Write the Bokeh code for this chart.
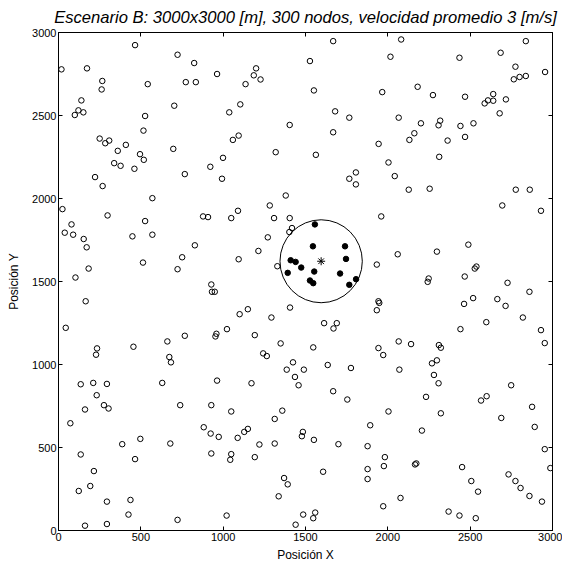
from bokeh.plotting import figure
from bokeh.models import LinearAxis, FixedTicker, CustomJSTickFormatter
from bokeh.embed import file_html
from bokeh.resources import INLINE

# --- data ---
open_x = [465,18,173,723,824,963,266,262,542,773,834,139,703,121,99,151,526,516,250,284,308,409,360,697,495,518,338,377,461,922,767,222,268,
          1668,1527,1200,1186,1227,1136,1551,1966,1104,1037,1680,1766,1404,1668,1094,1059,1944,999,1319,1563,993,1766,1806,1806,1380,
          2081,2838,2016,2435,2685,2775,2765,2800,2838,2955,2181,2274,2469,2588,2608,2640,2640,2717,2679,2066,2201,2318,2308,2441,2520,2161,2131,2363,2469,2004,2312,2042,2127,2254,2777,2862,
          570,24,298,79,38,89,153,171,526,449,570,878,908,828,751,513,723,183,103,928,932,949,165,44,767,959,953,661,234,228,455,673,
          1283,1090,1049,1309,1404,1418,1402,1271,1960,1214,1094,1329,1933,1943,1948,1933,1406,1150,1100,1293,1023,1192,1613,1690,1670,1349,1547,1243,1265,1943,1972,
          2695,2930,2489,2298,2060,2528,2538,2467,2248,2242,2727,2860,2518,2463,2665,2715,2820,2598,2441,2930,2953,2066,2141,2310,2322,2298,
          683,135,211,294,232,630,963,161,276,304,739,928,72,882,924,973,387,497,679,135,928,465,215,193,123,294,437,425,723,161,294,
          1424,1386,1490,1635,1776,1436,1458,1172,1668,1754,1049,1359,1313,1893,1088,1128,1150,1484,1478,1551,1220,1313,1700,1877,1049,1043,1192,1877,1877,1607,1370,1392,1337,1972,1021,1486,1559,1547,1440,
          2268,2070,2280,2308,2232,2004,2322,2749,2566,2600,2876,2689,2892,2207,2953,2987,1982,1976,2165,2173,2451,2733,2775,2806,2507,2548,2860,2936,2077,2369,2435,2534]
open_y = [2924,2778,2784,2866,2816,2750,2708,2657,2689,2701,2701,2591,2559,2531,2503,2519,2497,2409,2361,2333,2349,2323,2287,2299,2267,2233,2213,2197,2179,2191,2147,2129,2075,
          2948,2828,2784,2742,2717,2689,2651,2641,2567,2519,2525,2487,2443,2399,2379,2353,2329,2245,2279,2263,2119,2119,2157,2085,2018,
          2958,2948,2854,2848,2878,2794,2718,2732,2738,2762,2673,2623,2613,2573,2591,2629,2589,2597,2513,2487,2453,2469,2441,2437,2453,2393,2353,2349,2371,2217,2251,2135,2053,2059,2053,2053,
          2002,1936,1898,1844,1794,1782,1756,1706,1864,1772,1782,1892,1888,1718,1646,1614,1574,1578,1524,1482,1438,1438,1381,1221,1173,1185,1169,1139,1097,1059,1107,1045,
          1958,1926,1882,1882,1882,1822,1798,1766,1892,1684,1634,1592,1602,1381,1371,1327,1343,1333,1303,1283,1213,1177,1249,1249,1217,1127,1103,1067,1051,1099,1057,
          1958,1926,1722,1680,1664,1578,1590,1530,1518,1498,1492,1438,1400,1365,1394,1353,1283,1255,1213,1207,1129,1139,1123,1117,1101,1025,
          1013,881,889,883,815,889,903,729,755,735,755,755,646,622,584,564,520,552,524,458,464,430,358,268,238,174,184,96,64,29,39,
          1013,969,969,997,979,925,875,887,839,789,717,722,672,634,558,594,612,594,568,546,518,524,520,508,460,426,442,370,310,354,316,278,206,146,90,96,108,74,35,
          1007,969,937,887,805,717,706,875,783,809,745,678,624,602,490,376,442,388,398,404,382,338,298,256,298,234,208,174,196,114,90,74]

cluster_x = [1557,1545,1740,1746,1410,1440,1474,1392,1553,1710,1527,1547,1807,1766]
cluster_y = [1844,1712,1712,1636,1628,1618,1584,1552,1560,1548,1506,1490,1514,1480]

center_x = [1595]
center_y = [1622]
range_diameter = [500]

ticks = [0, 500, 1000, 1500, 2000, 2500, 3000]

FONT = "Liberation Sans"

p = figure(width=562, height=564, x_range=(0, 3000), y_range=(0, 3000),
           output_backend="svg", toolbar_location=None,
           min_border_left=58, min_border_right=10, min_border_top=31, min_border_bottom=34)

p.title.text = "Escenario B: 3000x3000 [m], 300 nodos, velocidad promedio 3 [m/s]"
p.title.text_font = FONT
p.title.text_font_style = "italic"
p.title.text_font_size = "16.6px"
p.title.text_color = "black"
p.title.align = "center"
p.title.standoff = 11
p.title.offset = 0

p.grid.visible = False
p.outline_line_color = "black"
p.outline_line_width = 1
p.background_fill_color = "white"
p.border_fill_color = "white"

for ax in (p.xaxis[0], p.yaxis[0]):
    ax.ticker = FixedTicker(ticks=ticks)
    ax.major_tick_in = 4
    ax.major_tick_out = 0
    ax.minor_tick_line_color = None
    ax.major_label_text_font = FONT
    ax.major_label_text_font_size = "11px"
    ax.major_label_text_color = "black"
    ax.major_label_standoff = 2
    ax.axis_label_text_font = FONT
    ax.axis_label_text_font_size = "12px"
    ax.axis_label_text_font_style = "normal"
    ax.axis_label_text_color = "black"
    ax.axis_line_color = "black"
    ax.major_tick_line_color = "black"

p.xaxis.axis_label = "Posición X"
p.yaxis.axis_label = "Posición Y"
p.xaxis.axis_label_standoff = 4
p.yaxis.axis_label_standoff = 8

blank = CustomJSTickFormatter(code="return '';")
for loc in ("above", "right"):
    ax = LinearAxis(ticker=FixedTicker(ticks=ticks), formatter=blank)
    ax.major_tick_in = 4
    ax.major_tick_out = 0
    ax.minor_tick_line_color = None
    ax.major_label_standoff = 0
    ax.axis_line_color = "black"
    ax.major_tick_line_color = "black"
    p.add_layout(ax, loc)

p.scatter(open_x, open_y, marker="circle", size=5.5, fill_color=None,
          line_color="black", line_width=1)
p.scatter(cluster_x, cluster_y, marker="circle", size=5.5, fill_color="black",
          line_color="black", line_width=1)
p.ellipse(x=center_x, y=center_y, width=range_diameter, height=range_diameter,
          fill_color=None, line_color="black", line_width=1)
p.scatter(center_x, center_y, marker="asterisk", size=8, line_color="black", line_width=1)

open("out.html", "w").write(file_html(p, INLINE))
